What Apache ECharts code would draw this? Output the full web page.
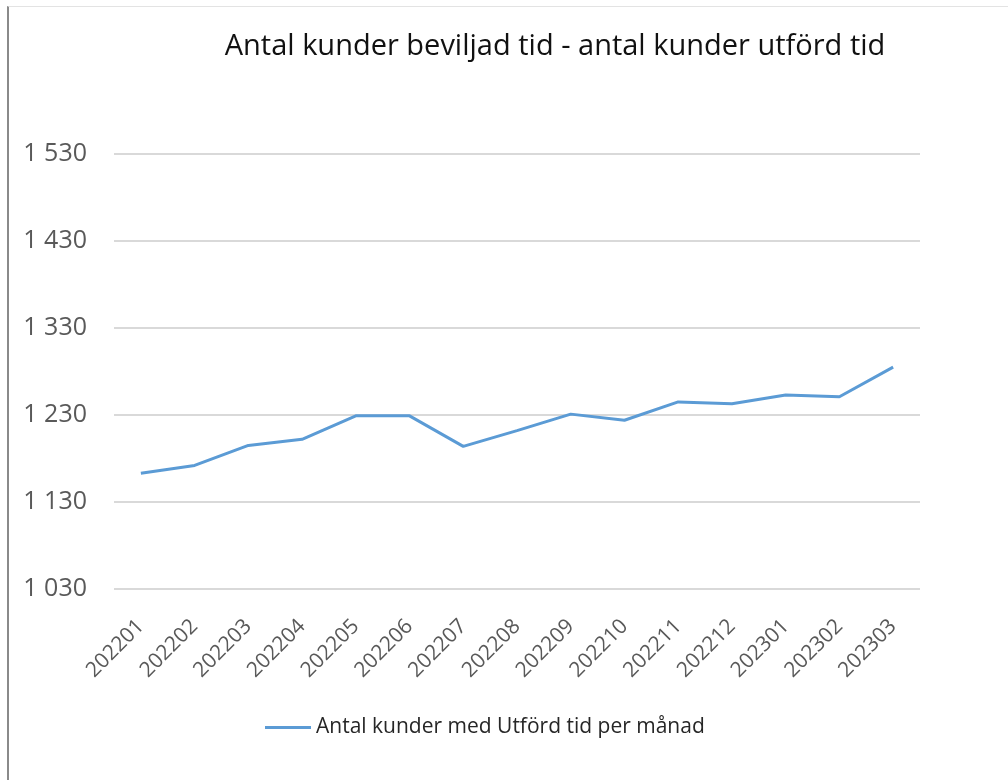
<!DOCTYPE html>
<html>
<head>
<meta charset="utf-8">
<script src="https://cdn.jsdelivr.net/npm/echarts@6/dist/echarts.min.js"></script>
<style>
html,body{margin:0;padding:0;background:#fff;}
#frame{position:absolute;left:7px;top:6px;width:1001px;height:774px;border-left:2px solid #8a8a8a;border-top:1px solid #e3e3e3;box-sizing:border-box;}
#chart{position:absolute;left:0;top:0;width:1008px;height:780px;}
</style>
</head>
<body>
<div id="frame"></div>
<div id="chart"></div>
<script>
const categories = ['202201','202202','202203','202204','202205','202206','202207','202208','202209','202210','202211','202212','202301','202302','202303'];
const values = [1163,1172,1195,1202,1229,1229,1194,1212,1231,1224,1245,1243,1253,1251,1285];
const seriesName = 'Antal kunder med Utförd tid per månad';
const titleText = 'Antal kunder beviljad tid - antal kunder utförd tid';

const chart = echarts.init(document.getElementById('chart'), null, {renderer:'canvas'});
chart.setOption({
  backgroundColor: 'transparent',
  animation: false,
  title: {
    text: titleText,
    left: 550, textAlign: 'center', top: 27,
    textStyle: {fontFamily: 'Open Sans', fontSize: 29, fontWeight: 'normal', color: '#111'}
  },
  legend: {
    data: [seriesName],
    left: 260, top: 712,
    itemWidth: 46, itemHeight: 3, itemGap: 6,
    icon: 'rect',
    textStyle: {fontFamily: 'Open Sans', fontSize: 21, color: '#262626', padding:[0,0,0,0]}
  },
  grid: {left: 114, right: 88, top: 154, bottom: 191, containLabel: false},
  xAxis: {
    type: 'category',
    data: categories,
    boundaryGap: true,
    axisLine: {show: false},
    axisTick: {show: false},
    axisLabel: {rotate: 45, margin: 34, fontFamily: 'Open Sans', fontSize: 21, color: '#595959', interval: 0}
  },
  yAxis: {
    type: 'value',
    min: 1030, max: 1530, interval: 100,
    axisLine: {show: false},
    axisTick: {show: false},
    splitLine: {lineStyle: {color: '#d9d9d9', width: 2}},
    axisLabel: {
      margin: 27, fontFamily: 'Open Sans', fontSize: 25, color: '#595959',
      formatter: v => String(v).replace(/\B(?=(\d{3})+(?!\d))/g, ' ')
    }
  },
  series: [{
    name: seriesName,
    type: 'line',
    data: values,
    symbol: 'none',
    lineStyle: {color: '#5b9bd5', width: 3},
    itemStyle: {color: '#5b9bd5'}
  }]
});
</script>
</body>
</html>
